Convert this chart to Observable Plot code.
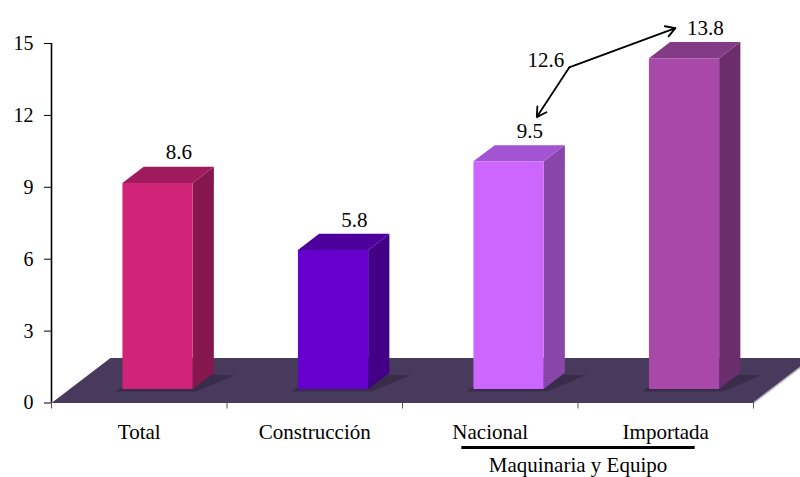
<!DOCTYPE html>
<html>
<head>
<meta charset="utf-8">
<script src="https://cdn.jsdelivr.net/npm/d3@7"></script>
<script src="https://cdn.jsdelivr.net/npm/@observablehq/plot@0.6"></script>
<style>
  html, body { margin: 0; padding: 0; overflow: hidden; background: #fff; }
  #chart svg text { font-family: "Liberation Serif", "Times New Roman", serif !important; }
</style>
</head>
<body>
<div id="chart"></div>
<script>
// Categories and their values
const categories = ["Total", "Construcción", "Nacional", "Importada"];
const values = [8.6, 5.8, 9.5, 13.8];

// Face colours of each 3‑D column: front, top, right side
const frontColors = ["#CF2478", "#6600CC", "#CC66FF", "#A848A8"];
const topColors = ["#A01A5E", "#4E009C", "#A453D2", "#843B86"];
const sideColors = ["#86174E", "#430087", "#8845AA", "#6C2D6D"];
const floorColor = "#483A5C";

const yTicks = [0, 3, 6, 9, 12, 15];

// Group annotation for the two machinery categories
const groupLabel = "Maquinaria y Equipo";
const groupMembers = ["Nacional", "Importada"];
const groupTotal = 12.6;

// Perspective: full depth of the floor expressed in data units
const depth = {x: 0.336, y: 1.88};
const dFront = 0.31, dBack = 0.67;   // column front/back as a fraction of floor depth
const barLo = 0.3, barHi = 0.7;      // column width inside its category slot

const shift = (d) => ({x: d * depth.x, y: d * depth.y});
const F = shift(dFront), B = shift(dBack);

// Polygons for floor, column shadows and column faces
const polys = [];
const addPoly = (id, fill, pts) => pts.forEach(([x, y], k) => polys.push({id, fill, x, y, k}));

const n = categories.length;
addPoly("floor", floorColor, [[0, 0], [n, 0], [n + depth.x, depth.y], [depth.x, depth.y]]);

const shadows = [];
categories.forEach((c, i) => {
  const v = values[i];
  const xl = i + barLo, xr = i + barHi;
  // soft shadow on the floor around the column foot
  [[xl + F.x - 0.04, F.y - 0.1], [xr + F.x + 0.02, F.y - 0.1], [xr + B.x + 0.12, B.y - 0.1], [xl + B.x, B.y]]
    .forEach(([x, y], k) => shadows.push({id: c, x, y, k}));
  addPoly(c + "-side", sideColors[i], [
    [xr + F.x, F.y], [xr + B.x, B.y], [xr + B.x, v + B.y], [xr + F.x, v + F.y]
  ]);
  addPoly(c + "-top", topColors[i], [
    [xl + F.x, v + F.y], [xr + F.x, v + F.y], [xr + B.x, v + B.y], [xl + B.x, v + B.y]
  ]);
  addPoly(c + "-front", frontColors[i], [
    [xl + F.x, F.y], [xr + F.x, F.y], [xr + F.x, v + F.y], [xl + F.x, v + F.y]
  ]);
});
const floorPoly = polys.filter((p) => p.id === "floor");
const columnPolys = polys.filter((p) => p.id !== "floor");

// Value labels sit above the back edge of each column top
const labels = categories.map((c, i) => ({
  cat: c,
  value: values[i],
  x: i + 0.5 + B.x,
  y: values[i] + B.y
}));

// Callout: combined value with arrows pointing at the two member labels
const callout = {x: 2.95, y: 14.0};
const memberIdx = groupMembers.map((m) => categories.indexOf(m));
const arrows = [
  {x1: callout.x, y1: callout.y, x2: labels[memberIdx[0]].x + 0.04, y2: labels[memberIdx[0]].y + 1.17},
  {x1: callout.x, y1: callout.y, x2: labels[memberIdx[1]].x - 0.17, y2: labels[memberIdx[1]].y + 0.585}
];
const groupCenter = (memberIdx[0] + memberIdx[1] + 1) / 2;

const font = "Liberation Serif, Times New Roman, serif";

const chart = Plot.plot({
  width: 800,
  height: 477,
  marginLeft: 51,
  marginRight: 47,
  marginTop: 43,
  marginBottom: 74.5,
  style: {fontFamily: font, fontSize: "20px", background: "#fff", color: "#000", overflow: "visible"},
  x: {type: "linear", domain: [0, n], axis: null},
  y: {domain: [0, 15], axis: null},
  color: {type: "identity"},
  marks: [
    // floor
    Plot.line(floorPoly, {x: "x", y: "y", z: "id", fill: "fill", stroke: "none", curve: "linear-closed"}),
    // light bevel on the floor's right edge
    Plot.link([{x1: n, y1: 0, x2: n + depth.x, y2: depth.y}], {x1: "x1", y1: "y1", x2: "x2", y2: "y2", stroke: "#b8b4c0", strokeWidth: 1.5}),
    // column shadows
    Plot.line(shadows, {x: "x", y: "y", z: "id", fill: "#1e1428", fillOpacity: 0.35, stroke: "none", curve: "linear-closed"}),
    // columns
    Plot.line(columnPolys, {x: "x", y: "y", z: "id", fill: "fill", stroke: "none", curve: "linear-closed"}),
    // y axis
    Plot.ruleX([0], {y1: 0, y2: 15, stroke: "#000", strokeWidth: 1.6}),
    Plot.axisY(yTicks, {tickSize: 7, tickPadding: 11, stroke: "#000", fontSize: 20, tickFormat: (d) => String(d)}),
    // x ticks at category boundaries
    Plot.axisX(d3.range(n + 1), {tickSize: 6, tickFormat: () => "", stroke: "#555"}),
    // category labels
    Plot.text(categories, {x: (d, i) => i + 0.5, y: 0, dy: 29, text: (d) => d, fontSize: 21, fontFamily: font, lineAnchor: "middle"}),
    // group underline and label
    Plot.link([{x1: groupCenter - 0.665, x2: groupCenter + 0.665}], {x1: "x1", x2: "x2", y1: 0, y2: 0, dy: 44.5, stroke: "#000", strokeWidth: 3}),
    Plot.text([groupLabel], {x: groupCenter, y: 0, dy: 62.5, text: (d) => d, fontSize: 21, fontFamily: font, lineAnchor: "middle"}),
    // value labels
    Plot.text(labels, {x: "x", y: "y", dy: -14, text: (d) => d.value.toFixed(1), fontSize: 21, fontFamily: font, lineAnchor: "middle"}),
    // callout
    Plot.arrow(arrows, {x1: "x1", y1: "y1", x2: "x2", y2: "y2", stroke: "#000", strokeWidth: 1.8, headLength: 9}),
    Plot.text([groupTotal], {x: callout.x, y: callout.y, dx: -5, dy: -7, text: (d) => d.toFixed(1), textAnchor: "end", fontSize: 21, fontFamily: font, lineAnchor: "middle"})
  ]
});

document.getElementById("chart").appendChild(chart);
</script>
</body>
</html>
